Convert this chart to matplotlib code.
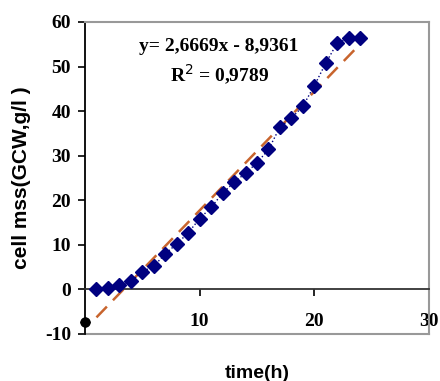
import numpy as np
import matplotlib
matplotlib.use("Agg")
import matplotlib.pyplot as plt

# growth data
time_h = [1, 2, 3, 4, 5, 6, 7, 8, 9, 10, 11, 12, 13, 14, 15, 16, 17, 18, 19, 20, 21, 22, 23, 24]
cell_mass = [0.2, 0.3, 1.0, 1.8, 4.0, 5.2, 8.0, 10.2, 12.7, 15.9, 18.4, 21.6, 24.0, 26.1,
             28.4, 31.4, 36.4, 38.4, 41.1, 45.7, 50.8, 55.3, 56.3, 56.3]
stray_x = [0]
stray_y = [-7.3]

slope = 2.6669
intercept = -8.9361
trend_x = [1, 24]

yticks = [-10, 0, 10, 20, 30, 40, 50, 60]
xticks = [10, 20, 30]

serif = 'Liberation Serif'
sans = 'Liberation Sans'

fig = plt.figure(figsize=(4.4, 3.81), dpi=100)
ax = fig.add_axes([85/440, 1-334/381, (429-85)/440, (334-22)/381])
ax.set_xlim(0, 30)
ax.set_ylim(-10, 60)

# trend line
tx = np.array(trend_x)
ax.plot(tx, slope*tx + intercept, color='#C8642D', lw=1.8, dashes=(6, 3.5), zorder=2)
# data
ax.plot(time_h, cell_mass, color='#000080', lw=1, ls=':', marker='D', ms=7.5,
        mfc='#000080', mec='#000080', zorder=3)
# odd black blob sitting on the axis at x=0
ax.scatter(stray_x, stray_y, s=45, marker=(4, 0, 0), color='black', zorder=4, clip_on=False)
ax.plot(stray_x, stray_y, marker='o', color='black', ms=6.5, clip_on=False, zorder=4)

# frame
for s in ['top', 'right']:
    ax.spines[s].set_color('#999999')
    ax.spines[s].set_linewidth(1.5)
ax.spines['left'].set_color('black')
ax.spines['left'].set_linewidth(1.3)
ax.spines['bottom'].set_position(('data', 0))
ax.spines['bottom'].set_color('#333333')
ax.spines['bottom'].set_linewidth(1.3)
ax.axhline(-10, color='#999999', lw=1.5, clip_on=False)

ax.set_yticks(yticks)
ax.set_yticklabels([str(v) for v in yticks], fontfamily=serif, fontweight='bold', fontsize=14)
ax.set_xticks(xticks)
ax.set_xticklabels([str(v) for v in xticks], fontfamily=serif, fontweight='bold', fontsize=14)
ax.tick_params(axis='y', direction='out', length=5, width=1.2, pad=5)
ax.tick_params(axis='x', direction='out', length=5, width=1.2, pad=12)

ax.set_ylabel('cell mss(GCW,g/l )', fontfamily=sans, fontweight='bold', fontsize=15, labelpad=10)
fig.text(257/440, 1-373/381, 'time(h)', fontfamily=sans, fontweight='bold', fontsize=14,
         ha='center', va='center')

ax.text(0.39, 0.92, 'y= 2,6669x - 8,9361', transform=ax.transAxes, fontfamily=serif,
        fontweight='bold', fontsize=14, ha='center', va='center')
ax.text(0.39, 0.83, 'R$^{2}$ = 0,9789', transform=ax.transAxes, fontfamily=serif,
        fontweight='bold', fontsize=14, ha='center', va='center')

fig.savefig('out.png', dpi=100)
